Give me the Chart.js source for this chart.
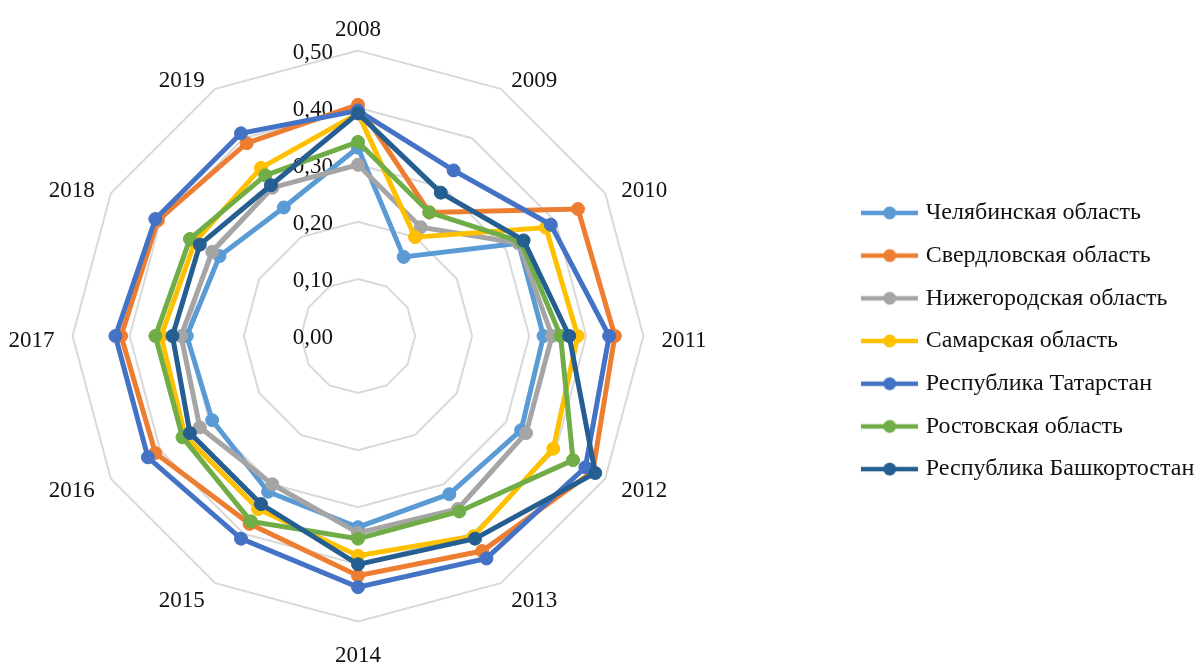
<!DOCTYPE html>
<html>
<head>
<meta charset="utf-8">
<script src="https://cdn.jsdelivr.net/npm/chart.js@4.4.1/dist/chart.umd.min.js"></script>
<style>
  html, body { margin: 0; padding: 0; background: #fff; }
</style>
</head>
<body>
<canvas id="chart" width="1203" height="663"></canvas>
<script>
const years = ["2008", "2009", "2010", "2011", "2012", "2013", "2014", "2015", "2016", "2017", "2018", "2019"];
const tickValues = [0, 0.1, 0.2, 0.3, 0.4, 0.5];
const tickLabels = ["0,00", "0,10", "0,20", "0,30", "0,40", "0,50"];

const regions = ["Челябинская область", "Свердловская область", "Нижегородская область", "Самарская область",
  "Республика Татарстан", "Ростовская область", "Республика Башкортостан"];
const colors = ["#5B9BD5", "#ED7D31", "#A5A5A5", "#FFC000", "#4472C4", "#70AD47", "#255E91"];

const chelyabinsk = [0.33, 0.16, 0.325, 0.325, 0.33, 0.32, 0.335, 0.315, 0.295, 0.30, 0.28, 0.26];
const sverdlovsk  = [0.405, 0.25, 0.445, 0.45, 0.475, 0.435, 0.42, 0.38, 0.41, 0.415, 0.405, 0.39];
const nizhny      = [0.30, 0.22, 0.325, 0.34, 0.34, 0.35, 0.345, 0.30, 0.32, 0.31, 0.295, 0.30];
const samara      = [0.39, 0.20, 0.38, 0.385, 0.395, 0.405, 0.385, 0.35, 0.35, 0.345, 0.33, 0.34];
const tatarstan   = [0.395, 0.335, 0.39, 0.44, 0.46, 0.45, 0.44, 0.41, 0.425, 0.425, 0.41, 0.41];
const rostov      = [0.34, 0.25, 0.33, 0.355, 0.435, 0.355, 0.355, 0.375, 0.355, 0.355, 0.34, 0.325];
const bashkortostan = [0.39, 0.29, 0.335, 0.37, 0.48, 0.41, 0.40, 0.34, 0.34, 0.325, 0.32, 0.305];

const series = [chelyabinsk, sverdlovsk, nizhny, samara, tatarstan, rostov, bashkortostan];

const FONT = "'Liberation Serif', 'Times New Roman', serif";
const LEGEND_X = 847;   // left edge of legend box
const LEGEND_BOX = 489; // room reserved on the right

// small "line with marker" picture for legend items
function legendIcon(color) {
  const c = document.createElement("canvas");
  c.width = 57; c.height = 16;
  const g = c.getContext("2d");
  g.strokeStyle = color;
  g.lineWidth = 4.5;
  g.beginPath(); g.moveTo(0, 8); g.lineTo(57, 8); g.stroke();
  g.fillStyle = color;
  g.beginPath(); g.arc(28.5, 8, 6.5, 0, Math.PI * 2); g.fill();
  return c;
}
const icons = colors.map(legendIcon);

// keep the radar narrow and put the legend further right
const legendPlace = {
  id: "legendPlace",
  beforeLayout(chart) {
    const lg = chart.legend;
    if (!lg || lg._patched) return;
    const fit = lg.fit;
    lg.fit = function () { fit.call(this); this.width = LEGEND_BOX; };
    lg._patched = true;
  },
  afterLayout(chart) {
    const lg = chart.legend;
    lg.left = LEGEND_X;
    lg.top += 4;
    lg.bottom += 4;
  }
};

// Excel-like text: ticks left of the vertical axis, year labels centred on their spokes
const axisText = {
  id: "axisText",
  beforeDatasetsDraw(chart) {
    const s = chart.scales.r;
    const ctx = chart.ctx;
    ctx.save();
    ctx.font = "23px " + FONT;
    ctx.fillStyle = "#111";
    ctx.textBaseline = "alphabetic";
    ctx.textAlign = "right";
    tickValues.forEach((v, i) => {
      ctx.fillText(tickLabels[i], s.xCenter - 25, s.yCenter - s.getDistanceFromCenterForValue(v) + 8);
    });
    const n = years.length;
    years.forEach((lab, i) => {
      const p = s.getPointPosition(i, s.drawingArea + 15);
      if (i === 0) {
        ctx.textAlign = "center";
        ctx.fillText(lab, p.x, p.y);
      } else if (i === n / 2) {
        ctx.textAlign = "center";
        ctx.fillText(lab, p.x, p.y + 26);
      } else if (i < n / 2) {
        ctx.textAlign = "left";
        ctx.fillText(lab, p.x + 3, p.y + 11);
      } else {
        ctx.textAlign = "right";
        ctx.fillText(lab, p.x - 3, p.y + 11);
      }
    });
    ctx.restore();
  }
};

new Chart(document.getElementById("chart"), {
  type: "radar",
  data: {
    labels: years,
    datasets: series.map((d, i) => ({
      label: regions[i],
      data: d,
      borderColor: colors[i],
      backgroundColor: colors[i],
      pointBackgroundColor: colors[i],
      pointBorderColor: colors[i],
      borderWidth: 5,
      pointRadius: 6.5,
      pointBorderWidth: 1,
      fill: false,
      order: series.length - i
    }))
  },
  options: {
    responsive: false,
    animation: false,
    layout: { padding: { left: 10, right: 8, top: 11, bottom: 0 } },
    plugins: {
      tooltip: { enabled: false },
      legend: {
        position: "right",
        labels: {
          usePointStyle: true,
          pointStyleWidth: 48,
          padding: 18.7,
          color: "#111",
          font: { family: FONT, size: 24 },
          sort: (a, b) => a.datasetIndex - b.datasetIndex,
          generateLabels(chart) {
            const items = Chart.defaults.plugins.legend.labels.generateLabels(chart);
            items.forEach(it => { it.pointStyle = icons[it.datasetIndex]; });
            return items;
          }
        }
      }
    },
    scales: {
      r: {
        min: 0,
        max: 0.5,
        ticks: { stepSize: 0.1, display: false },
        grid: { color: "#D9D9D9", lineWidth: 2 },
        angleLines: { display: false },
        pointLabels: {
          padding: 13,
          color: "rgba(0,0,0,0)",
          font: { family: FONT, size: 23 }
        }
      }
    }
  },
  plugins: [legendPlace, axisText]
});
</script>
</body>
</html>
